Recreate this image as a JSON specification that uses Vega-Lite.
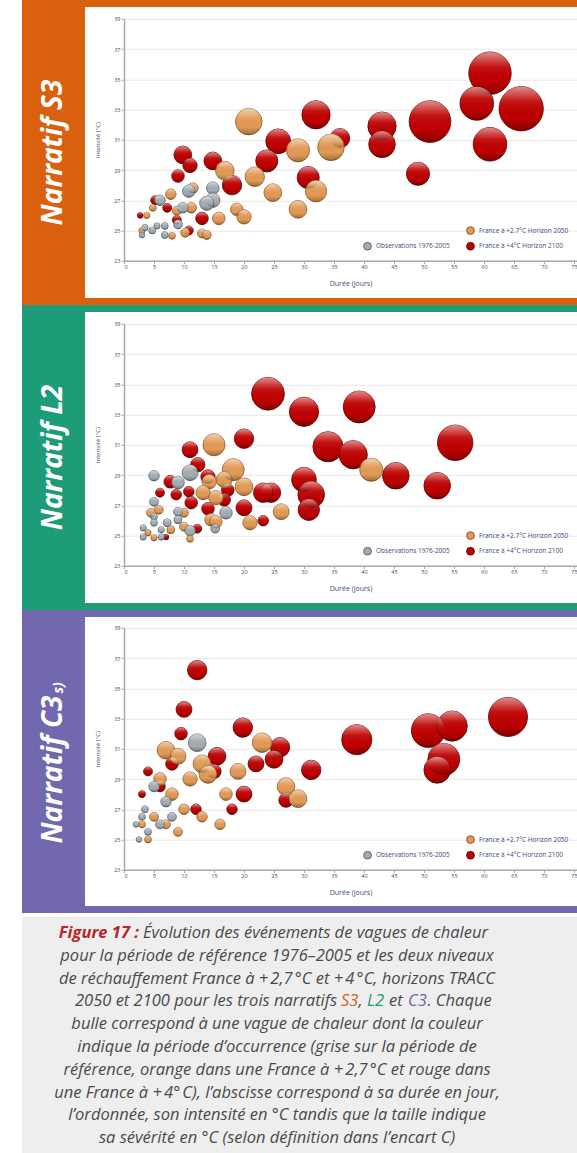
{
"$schema": "https://vega.github.io/schema/vega-lite/v6.json",
"background": "white",
"padding": {"left": 22, "top": 0, "right": 0, "bottom": 0},
"config": {
  "view": {"stroke": null},
  "font": "Open Sans",
  "axis": {"labelFont": "Open Sans", "labelFontSize": 5.5, "labelColor": "#3b4c78", "titleFont": "Open Sans", "titleFontSize": 7, "titleFontWeight": "normal", "titleColor": "#3b4c78", "domainColor": "#a9a9a9", "domainWidth": 1.5, "tickColor": "#a9a9a9", "tickSize": 3, "labelPadding": 1, "gridColor": "#e8e8e8", "gridWidth": 1.2},
  "axisX": {"grid": false, "titlePadding": 9},
  "axisY": {"grid": true, "titlePadding": 13, "titleFontSize": 6}
},
"resolve": {"scale": {"color": "independent", "stroke": "independent", "size": "independent"}},
"datasets": {
  "s3": [
    {"d":61.0,"i":35.4,"s":230,"c":"r"},{"d":58.8,"i":33.4,"s":144,"c":"r"},{"d":66.2,"i":33.05,"s":250,"c":"r"},{"d":51.0,"i":32.2,"s":221,"c":"r"},{"d":61.0,"i":30.7,"s":144,"c":"r"},{"d":43.0,"i":31.9,"s":102,"c":"r"},{"d":43.0,"i":30.7,"s":90,"c":"r"},{"d":49.0,"i":28.75,"s":68,"c":"r"},{"d":32.0,"i":32.65,"s":102,"c":"r"},{"d":36.0,"i":31.1,"s":48,"c":"r"},{"d":25.7,"i":30.9,"s":78,"c":"r"},{"d":23.8,"i":29.6,"s":62,"c":"r"},{"d":30.7,"i":28.5,"s":62,"c":"r"},{"d":9.8,"i":30.0,"s":40,"c":"r"},{"d":11.0,"i":29.3,"s":26,"c":"r"},{"d":14.8,"i":29.6,"s":40,"c":"r"},{"d":9.0,"i":28.6,"s":20,"c":"r"},{"d":18.0,"i":28.0,"s":48,"c":"r"},{"d":13.0,"i":25.8,"s":20,"c":"r"},{"d":5.2,"i":27.0,"s":10,"c":"r"},{"d":7.2,"i":26.5,"s":10,"c":"r"},{"d":2.7,"i":26.0,"s":4,"c":"r"},{"d":8.8,"i":25.7,"s":10,"c":"r"},{"d":10.8,"i":25.0,"s":10,"c":"r"},
    {"d":20.8,"i":32.2,"s":90,"c":"o"},{"d":29.0,"i":30.3,"s":68,"c":"o"},{"d":34.5,"i":30.5,"s":90,"c":"o"},{"d":21.8,"i":28.55,"s":48,"c":"o"},{"d":16.8,"i":28.95,"s":44,"c":"o"},{"d":32.0,"i":27.6,"s":58,"c":"o"},{"d":24.8,"i":27.5,"s":40,"c":"o"},{"d":29.0,"i":26.4,"s":40,"c":"o"},{"d":18.8,"i":26.4,"s":20,"c":"o"},{"d":20.0,"i":25.9,"s":26,"c":"o"},{"d":15.8,"i":25.8,"s":20,"c":"o"},{"d":11.2,"i":26.5,"s":14,"c":"o"},{"d":7.8,"i":27.4,"s":14,"c":"o"},{"d":4.8,"i":26.5,"s":6,"c":"o"},{"d":3.8,"i":26.0,"s":5,"c":"o"},{"d":10.2,"i":24.85,"s":10,"c":"o"},{"d":13.0,"i":24.8,"s":10,"c":"o"},{"d":13.8,"i":24.7,"s":10,"c":"o"},{"d":8.0,"i":24.65,"s":6,"c":"o"},{"d":3.0,"i":25.0,"s":5,"c":"o"},{"d":8.8,"i":26.3,"s":10,"c":"o"},{"d":11.5,"i":27.8,"s":14,"c":"o"},
    {"d":14.8,"i":27.8,"s":20,"c":"g"},{"d":14.8,"i":27.0,"s":26,"c":"g"},{"d":13.8,"i":26.8,"s":26,"c":"g"},{"d":10.8,"i":27.6,"s":20,"c":"g"},{"d":9.8,"i":26.5,"s":14,"c":"g"},{"d":6.0,"i":27.0,"s":14,"c":"g"},{"d":9.0,"i":25.4,"s":10,"c":"g"},{"d":4.7,"i":25.0,"s":6,"c":"g"},{"d":6.8,"i":24.7,"s":6,"c":"g"},{"d":3.5,"i":25.2,"s":5,"c":"g"},{"d":5.5,"i":25.3,"s":5,"c":"g"},{"d":6.8,"i":25.3,"s":6,"c":"g"},{"d":3.0,"i":24.7,"s":4,"c":"g"}
  ],
  "l2": [
    {"d":24.0,"i":34.37,"s":137,"c":"r"},{"d":30.0,"i":33.18,"s":109,"c":"r"},{"d":39.2,"i":33.5,"s":130,"c":"r"},{"d":34.0,"i":30.87,"s":116,"c":"r"},{"d":55.2,"i":31.13,"s":160,"c":"r"},{"d":20.0,"i":31.4,"s":48,"c":"r"},{"d":11.0,"i":30.67,"s":32,"c":"r"},{"d":38.2,"i":30.34,"s":102,"c":"r"},{"d":45.3,"i":28.95,"s":90,"c":"r"},{"d":52.2,"i":28.29,"s":90,"c":"r"},{"d":30.0,"i":28.69,"s":78,"c":"r"},{"d":31.2,"i":27.7,"s":90,"c":"r"},{"d":30.8,"i":26.7,"s":58,"c":"r"},{"d":24.5,"i":27.83,"s":48,"c":"r"},{"d":23.2,"i":27.83,"s":48,"c":"r"},{"d":23.2,"i":25.98,"s":14,"c":"r"},{"d":20.0,"i":26.83,"s":32,"c":"r"},{"d":14.0,"i":28.88,"s":26,"c":"r"},{"d":16.7,"i":27.36,"s":20,"c":"r"},{"d":17.3,"i":28.0,"s":20,"c":"r"},{"d":14.0,"i":26.77,"s":20,"c":"r"},{"d":11.2,"i":27.17,"s":20,"c":"r"},{"d":10.8,"i":27.9,"s":14,"c":"r"},{"d":12.3,"i":29.68,"s":26,"c":"r"},{"d":7.7,"i":28.55,"s":20,"c":"r"},{"d":8.7,"i":27.7,"s":14,"c":"r"},{"d":6.0,"i":27.83,"s":10,"c":"r"},{"d":12.2,"i":25.45,"s":10,"c":"r"},{"d":7.0,"i":24.9,"s":4,"c":"r"},
    {"d":15.0,"i":31.0,"s":62,"c":"o"},{"d":41.2,"i":29.35,"s":68,"c":"o"},{"d":26.2,"i":26.57,"s":32,"c":"o"},{"d":21.0,"i":25.84,"s":26,"c":"o"},{"d":20.0,"i":28.22,"s":40,"c":"o"},{"d":18.2,"i":29.35,"s":62,"c":"o"},{"d":16.7,"i":28.69,"s":32,"c":"o"},{"d":14.2,"i":28.55,"s":26,"c":"o"},{"d":13.2,"i":27.83,"s":26,"c":"o"},{"d":15.3,"i":27.5,"s":26,"c":"o"},{"d":14.5,"i":26.04,"s":20,"c":"o"},{"d":15.3,"i":25.9,"s":20,"c":"o"},{"d":5.8,"i":26.7,"s":10,"c":"o"},{"d":4.5,"i":26.5,"s":10,"c":"o"},{"d":10.0,"i":26.5,"s":10,"c":"o"},{"d":10.0,"i":25.58,"s":10,"c":"o"},{"d":11.0,"i":24.78,"s":6,"c":"o"},{"d":4.0,"i":25.18,"s":5,"c":"o"},{"d":5.0,"i":24.85,"s":5,"c":"o"},{"d":7.8,"i":25.38,"s":8,"c":"o"},
    {"d":17.0,"i":26.5,"s":20,"c":"g"},{"d":15.2,"i":25.45,"s":10,"c":"g"},{"d":11.0,"i":29.15,"s":32,"c":"g"},{"d":9.0,"i":28.5,"s":20,"c":"g"},{"d":5.0,"i":28.95,"s":14,"c":"g"},{"d":5.0,"i":27.23,"s":10,"c":"g"},{"d":5.0,"i":26.24,"s":6,"c":"g"},{"d":5.0,"i":25.84,"s":6,"c":"g"},{"d":7.2,"i":25.84,"s":8,"c":"g"},{"d":9.0,"i":26.57,"s":10,"c":"g"},{"d":9.0,"i":26.04,"s":8,"c":"g"},{"d":11.0,"i":25.31,"s":14,"c":"g"},{"d":3.2,"i":25.5,"s":5,"c":"g"},{"d":3.2,"i":24.9,"s":5,"c":"g"},{"d":6.2,"i":25.38,"s":5,"c":"g"},{"d":6.2,"i":24.9,"s":5,"c":"g"}
  ],
  "c3": [
    {"d":12.2,"i":36.2,"s":48,"c":"r"},{"d":10.0,"i":33.6,"s":32,"c":"r"},{"d":19.8,"i":32.4,"s":48,"c":"r"},{"d":26.0,"i":31.1,"s":48,"c":"r"},{"d":25.0,"i":30.3,"s":40,"c":"r"},{"d":31.2,"i":29.6,"s":48,"c":"r"},{"d":38.8,"i":31.6,"s":116,"c":"r"},{"d":50.7,"i":32.2,"s":144,"c":"r"},{"d":54.7,"i":32.5,"s":116,"c":"r"},{"d":53.3,"i":30.3,"s":130,"c":"r"},{"d":52.2,"i":29.6,"s":90,"c":"r"},{"d":64.0,"i":33.1,"s":194,"c":"r"},{"d":20.0,"i":28.0,"s":32,"c":"r"},{"d":15.5,"i":30.5,"s":40,"c":"r"},{"d":15.0,"i":29.5,"s":26,"c":"r"},{"d":9.5,"i":32.0,"s":20,"c":"r"},{"d":22.0,"i":30.0,"s":32,"c":"r"},{"d":27.0,"i":27.6,"s":26,"c":"r"},{"d":18.0,"i":27.0,"s":14,"c":"r"},{"d":8.0,"i":30.0,"s":20,"c":"r"},{"d":4.0,"i":29.5,"s":10,"c":"r"},{"d":6.0,"i":28.5,"s":14,"c":"r"},{"d":3.0,"i":28.0,"s":6,"c":"r"},{"d":12.0,"i":27.0,"s":14,"c":"r"},
    {"d":23.0,"i":31.4,"s":48,"c":"o"},{"d":27.0,"i":28.5,"s":40,"c":"o"},{"d":29.0,"i":27.7,"s":40,"c":"o"},{"d":7.0,"i":30.9,"s":40,"c":"o"},{"d":9.0,"i":30.5,"s":32,"c":"o"},{"d":13.0,"i":30.0,"s":40,"c":"o"},{"d":14.0,"i":29.3,"s":40,"c":"o"},{"d":19.0,"i":29.5,"s":32,"c":"o"},{"d":11.0,"i":29.0,"s":26,"c":"o"},{"d":17.0,"i":28.0,"s":20,"c":"o"},{"d":6.0,"i":29.0,"s":20,"c":"o"},{"d":8.0,"i":28.0,"s":20,"c":"o"},{"d":10.0,"i":27.0,"s":14,"c":"o"},{"d":13.0,"i":26.5,"s":14,"c":"o"},{"d":5.0,"i":26.5,"s":10,"c":"o"},{"d":3.0,"i":26.0,"s":6,"c":"o"},{"d":7.0,"i":26.0,"s":10,"c":"o"},{"d":4.0,"i":25.0,"s":6,"c":"o"},{"d":9.0,"i":25.5,"s":10,"c":"o"},{"d":16.0,"i":26.0,"s":14,"c":"o"},
    {"d":12.2,"i":31.4,"s":40,"c":"g"},{"d":5.0,"i":28.5,"s":14,"c":"g"},{"d":7.0,"i":27.5,"s":14,"c":"g"},{"d":3.0,"i":26.5,"s":6,"c":"g"},{"d":4.0,"i":25.5,"s":6,"c":"g"},{"d":6.0,"i":26.0,"s":10,"c":"g"},{"d":2.5,"i":25.0,"s":4,"c":"g"},{"d":8.0,"i":26.5,"s":10,"c":"g"},{"d":3.5,"i":27.0,"s":6,"c":"g"},{"d":2.0,"i":26.0,"s":4,"c":"g"}
  ],
  "cap": [
    {"l":1,"k":"f","t":"Figure 17 :"},
    {"l":1,"k":"a","t":"Évolution des événements de vagues de chaleur"},
    {"l":2,"k":"c","t":"pour la période de référence 1976–2005 et les deux niveaux"},
    {"l":3,"k":"c","t":"de réchauffement France à +\u202f2,7\u202f°C et +\u202f4\u202f°C, horizons TRACC"},
    {"l":4,"k":"b","t":"2050 et 2100 pour les trois narratifs"},
    {"l":4,"k":"s","t":"S3"},
    {"l":4,"k":"m","t":","},
    {"l":4,"k":"g","t":"L2"},
    {"l":4,"k":"e","t":"et"},
    {"l":4,"k":"p","t":"C3"},
    {"l":4,"k":"q","t":". Chaque"},
    {"l":5,"k":"c","t":"bulle correspond à une vague de chaleur dont la couleur"},
    {"l":6,"k":"c","t":"indique la période d’occurrence (grise sur la période de"},
    {"l":7,"k":"c","t":"référence, orange dans une France à +\u202f2,7\u202f°C et rouge dans"},
    {"l":8,"k":"c","t":"une France à +\u202f4°\u202fC), l’abscisse correspond à sa durée en jour,"},
    {"l":9,"k":"c","t":"l’ordonnée, son intensité en °C tandis que la taille indique"},
    {"l":10,"k":"c","t":"sa sévérité en °C (selon définition dans l’encart C)"}
  ]
},
"spacing": 4,
"vconcat": [
  {"spacing": 0, "resolve": {"scale": {"color": "independent", "stroke": "independent", "size": "independent"}}, "vconcat": [
    {"spacing": 0, "resolve": {"scale": {"color": "independent", "stroke": "independent", "size": "independent"}}, "vconcat": [
      {"width": 555, "height": 7, "view": {"fill": "#d9600f", "stroke": null}, "data": {"values": [{"t": ""}]}, "mark": {"type": "point", "opacity": 0, "size": 1}, "encoding": {}},
      {"resolve": {"scale": {"color": "independent", "stroke": "independent", "size": "independent"}}, "hconcat": [
        {"width": 63, "height": 291, "view": {"fill": "#d9600f", "stroke": null}, "data": {"values": [{"t": "Narratif S3"}]}, "mark": {"type": "text", "angle": 270, "color": "white", "font": "Open Sans", "fontSize": 28, "fontWeight": "bold", "fontStyle": "italic"}, "encoding": {"text": {"field": "t"}}},
        {"width": 453, "height": 242, "data": {"name": "s3"},
         "encoding": {
           "x": {"field": "d", "type": "quantitative", "scale": {"domain": [0, 75.5], "nice": false, "zero": false}, "axis": {"title": "Durée  (jours)", "values": [0,5,10,15,20,25,30,35,40,45,50,55,60,65,70,75]}},
           "y": {"field": "i", "type": "quantitative", "scale": {"domain": [23, 39], "nice": false, "zero": false}, "axis": {"title": "Intensité (°C)", "values": [23,25,27,29,31,33,35,37,39]}},
           "size": {"field": "s", "type": "quantitative", "scale": {"domain": [0, 250], "range": [0, 1963]}, "legend": null},
           "order": {"field": "c", "sort": "descending"}
         },
         "layer": [
           {"mark": {"type": "circle", "opacity": 1, "strokeWidth": 0.8},
            "encoding": {
              "color": {"field": "c", "type": "nominal", "scale": {"domain": ["z","g","o","r"], "range": ["rgba(0,0,0,0)","#a3acb2","#e29a56","#bf0000"]}, "legend": {"title": null, "orient": "bottom-right", "columns": 2, "offset": 8, "symbolType": "circle", "symbolSize": 60, "symbolStrokeWidth": 1, "labelFontSize": 6.5, "labelColor": "#3b4c78", "labelFont": "Open Sans", "rowPadding": 3, "columnPadding": 14, "labelExpr": "datum.value=='o'?'France à +2.7°C Horizon 2050':datum.value=='g'?'Observations 1976-2005':datum.value=='r'?'France à +4°C Horizon 2100':''"}},
              "stroke": {"field": "c", "type": "nominal", "scale": {"domain": ["z","g","o","r"], "range": ["rgba(0,0,0,0)","#5e666c","#8d5a2b","#5e0000"]}, "legend": {"title": null, "orient": "bottom-right", "columns": 2, "offset": 8, "symbolType": "circle", "symbolSize": 60, "symbolStrokeWidth": 1, "labelFontSize": 6.5, "labelColor": "#3b4c78", "labelFont": "Open Sans", "rowPadding": 3, "columnPadding": 14, "labelExpr": "datum.value=='o'?'France à +2.7°C Horizon 2050':datum.value=='g'?'Observations 1976-2005':datum.value=='r'?'France à +4°C Horizon 2100':''"}}
            }},
           {"mark": {"type": "circle", "opacity": 1, "strokeWidth": 0, "fill": {"gradient": "linear", "x1": 0, "y1": 0, "x2": 0, "y2": 1, "stops": [{"offset": 0, "color": "rgba(255,255,255,0.55)"}, {"offset": 0.35, "color": "rgba(255,255,255,0.08)"}, {"offset": 0.7, "color": "rgba(0,0,0,0)"}, {"offset": 1, "color": "rgba(0,0,0,0.3)"}]}}}
         ]}
      ], "spacing": 9, "center": true},
      {"width": 555, "height": 7, "view": {"fill": "#d9600f", "stroke": null}, "data": {"values": [{"t": ""}]}, "mark": {"type": "point", "opacity": 0, "size": 1}, "encoding": {}}
    ]},
    {"spacing": 0, "resolve": {"scale": {"color": "independent", "stroke": "independent", "size": "independent"}}, "vconcat": [
      {"width": 555, "height": 7, "view": {"fill": "#1e9b77", "stroke": null}, "data": {"values": [{"t": ""}]}, "mark": {"type": "point", "opacity": 0, "size": 1}, "encoding": {}},
      {"resolve": {"scale": {"color": "independent", "stroke": "independent", "size": "independent"}}, "hconcat": [
        {"width": 63, "height": 291, "view": {"fill": "#1e9b77", "stroke": null}, "data": {"values": [{"t": "Narratif L2"}]}, "mark": {"type": "text", "angle": 270, "color": "white", "font": "Open Sans", "fontSize": 28, "fontWeight": "bold", "fontStyle": "italic"}, "encoding": {"text": {"field": "t"}}},
        {"width": 453, "height": 242, "data": {"name": "l2"},
         "encoding": {
           "x": {"field": "d", "type": "quantitative", "scale": {"domain": [0, 75.5], "nice": false, "zero": false}, "axis": {"title": "Durée  (jours)", "values": [0,5,10,15,20,25,30,35,40,45,50,55,60,65,70,75]}},
           "y": {"field": "i", "type": "quantitative", "scale": {"domain": [23, 39], "nice": false, "zero": false}, "axis": {"title": "Intensité (°C)", "values": [23,25,27,29,31,33,35,37,39]}},
           "size": {"field": "s", "type": "quantitative", "scale": {"domain": [0, 250], "range": [0, 1963]}, "legend": null},
           "order": {"field": "c", "sort": "descending"}
         },
         "layer": [
           {"mark": {"type": "circle", "opacity": 1, "strokeWidth": 0.8},
            "encoding": {
              "color": {"field": "c", "type": "nominal", "scale": {"domain": ["z","g","o","r"], "range": ["rgba(0,0,0,0)","#a3acb2","#e29a56","#bf0000"]}, "legend": {"title": null, "orient": "bottom-right", "columns": 2, "offset": 8, "symbolType": "circle", "symbolSize": 60, "symbolStrokeWidth": 1, "labelFontSize": 6.5, "labelColor": "#3b4c78", "labelFont": "Open Sans", "rowPadding": 3, "columnPadding": 14, "labelExpr": "datum.value=='o'?'France à +2.7°C Horizon 2050':datum.value=='g'?'Observations 1976-2005':datum.value=='r'?'France à +4°C Horizon 2100':''"}},
              "stroke": {"field": "c", "type": "nominal", "scale": {"domain": ["z","g","o","r"], "range": ["rgba(0,0,0,0)","#5e666c","#8d5a2b","#5e0000"]}, "legend": {"title": null, "orient": "bottom-right", "columns": 2, "offset": 8, "symbolType": "circle", "symbolSize": 60, "symbolStrokeWidth": 1, "labelFontSize": 6.5, "labelColor": "#3b4c78", "labelFont": "Open Sans", "rowPadding": 3, "columnPadding": 14, "labelExpr": "datum.value=='o'?'France à +2.7°C Horizon 2050':datum.value=='g'?'Observations 1976-2005':datum.value=='r'?'France à +4°C Horizon 2100':''"}}
            }},
           {"mark": {"type": "circle", "opacity": 1, "strokeWidth": 0, "fill": {"gradient": "linear", "x1": 0, "y1": 0, "x2": 0, "y2": 1, "stops": [{"offset": 0, "color": "rgba(255,255,255,0.55)"}, {"offset": 0.35, "color": "rgba(255,255,255,0.08)"}, {"offset": 0.7, "color": "rgba(0,0,0,0)"}, {"offset": 1, "color": "rgba(0,0,0,0.3)"}]}}}
         ]}
      ], "spacing": 9, "center": true},
      {"width": 555, "height": 7, "view": {"fill": "#1e9b77", "stroke": null}, "data": {"values": [{"t": ""}]}, "mark": {"type": "point", "opacity": 0, "size": 1}, "encoding": {}}
    ]},
    {"spacing": 0, "resolve": {"scale": {"color": "independent", "stroke": "independent", "size": "independent"}}, "vconcat": [
      {"width": 555, "height": 7, "view": {"fill": "#7268b0", "stroke": null}, "data": {"values": [{"t": ""}]}, "mark": {"type": "point", "opacity": 0, "size": 1}, "encoding": {}},
      {"resolve": {"scale": {"color": "independent", "stroke": "independent", "size": "independent"}}, "hconcat": [
        {"width": 63, "height": 289, "view": {"fill": "#7268b0", "stroke": null}, "data": {"values": [{"t": "Narratif C3", "u": "s)"}]},
         "layer": [
           {"mark": {"type": "text", "angle": 270, "color": "white", "font": "Open Sans", "fontSize": 28, "fontWeight": "bold", "fontStyle": "italic", "dx": -8}, "encoding": {"text": {"field": "t"}}},
           {"mark": {"type": "text", "angle": 270, "color": "white", "font": "Open Sans", "fontSize": 14, "fontWeight": "bold", "fontStyle": "italic", "align": "left", "dx": 68, "dy": 5}, "encoding": {"text": {"field": "u"}}}
         ]},
        {"width": 453, "height": 242, "data": {"name": "c3"},
         "encoding": {
           "x": {"field": "d", "type": "quantitative", "scale": {"domain": [0, 75.5], "nice": false, "zero": false}, "axis": {"title": "Durée  (jours)", "values": [0,5,10,15,20,25,30,35,40,45,50,55,60,65,70,75]}},
           "y": {"field": "i", "type": "quantitative", "scale": {"domain": [23, 39], "nice": false, "zero": false}, "axis": {"title": "Intensité (°C)", "values": [23,25,27,29,31,33,35,37,39]}},
           "size": {"field": "s", "type": "quantitative", "scale": {"domain": [0, 250], "range": [0, 1963]}, "legend": null},
           "order": {"field": "c", "sort": "descending"}
         },
         "layer": [
           {"mark": {"type": "circle", "opacity": 1, "strokeWidth": 0.8},
            "encoding": {
              "color": {"field": "c", "type": "nominal", "scale": {"domain": ["z","g","o","r"], "range": ["rgba(0,0,0,0)","#a3acb2","#e29a56","#bf0000"]}, "legend": {"title": null, "orient": "bottom-right", "columns": 2, "offset": 8, "symbolType": "circle", "symbolSize": 60, "symbolStrokeWidth": 1, "labelFontSize": 6.5, "labelColor": "#3b4c78", "labelFont": "Open Sans", "rowPadding": 3, "columnPadding": 14, "labelExpr": "datum.value=='o'?'France à +2.7°C Horizon 2050':datum.value=='g'?'Observations 1976-2005':datum.value=='r'?'France à +4°C Horizon 2100':''"}},
              "stroke": {"field": "c", "type": "nominal", "scale": {"domain": ["z","g","o","r"], "range": ["rgba(0,0,0,0)","#5e666c","#8d5a2b","#5e0000"]}, "legend": {"title": null, "orient": "bottom-right", "columns": 2, "offset": 8, "symbolType": "circle", "symbolSize": 60, "symbolStrokeWidth": 1, "labelFontSize": 6.5, "labelColor": "#3b4c78", "labelFont": "Open Sans", "rowPadding": 3, "columnPadding": 14, "labelExpr": "datum.value=='o'?'France à +2.7°C Horizon 2050':datum.value=='g'?'Observations 1976-2005':datum.value=='r'?'France à +4°C Horizon 2100':''"}}
            }},
           {"mark": {"type": "circle", "opacity": 1, "strokeWidth": 0, "fill": {"gradient": "linear", "x1": 0, "y1": 0, "x2": 0, "y2": 1, "stops": [{"offset": 0, "color": "rgba(255,255,255,0.55)"}, {"offset": 0.35, "color": "rgba(255,255,255,0.08)"}, {"offset": 0.7, "color": "rgba(0,0,0,0)"}, {"offset": 1, "color": "rgba(0,0,0,0.3)"}]}}}
         ]}
      ], "spacing": 9, "center": true},
      {"width": 555, "height": 7, "view": {"fill": "#7268b0", "stroke": null}, "data": {"values": [{"t": ""}]}, "mark": {"type": "point", "opacity": 0, "size": 1}, "encoding": {}}
    ]}
  ]},
  {"width": 555, "height": 236, "view": {"fill": "#eeeeee", "stroke": null}, "data": {"name": "cap"},
   "encoding": {"y": {"field": "l", "type": "quantitative", "scale": {"domain": [0.298, 10.649], "reverse": true, "nice": false, "zero": false}, "axis": null}},
   "layer": [
     {"transform": [{"filter": "datum.k == 'c'"}], "mark": {"type": "text", "font": "Open Sans", "fontStyle": "italic", "fontSize": 16.5, "color": "#4a4a4a", "baseline": "middle", "align": "center"}, "encoding": {"x": {"datum": 0.4595, "type": "quantitative", "scale": {"domain": [0, 1], "nice": false, "zero": false}, "axis": null}, "text": {"field": "t"}}},
     {"transform": [{"filter": "datum.k == 'f'"}], "mark": {"type": "text", "font": "Open Sans", "fontStyle": "italic", "fontWeight": "bold", "fontSize": 16.5, "color": "#b8262c", "baseline": "middle", "align": "right"}, "encoding": {"x": {"datum": 0.2108, "type": "quantitative"}, "text": {"field": "t"}}},
     {"transform": [{"filter": "datum.k == 'a'"}], "mark": {"type": "text", "font": "Open Sans", "fontStyle": "italic", "fontSize": 16.5, "color": "#4a4a4a", "baseline": "middle", "align": "left"}, "encoding": {"x": {"datum": 0.218, "type": "quantitative"}, "text": {"field": "t"}}},
     {"transform": [{"filter": "datum.k == 'b'"}], "mark": {"type": "text", "font": "Open Sans", "fontStyle": "italic", "fontSize": 16.5, "color": "#4a4a4a", "baseline": "middle", "align": "right"}, "encoding": {"x": {"datum": 0.5676, "type": "quantitative"}, "text": {"field": "t"}}},
     {"transform": [{"filter": "datum.k == 's'"}], "mark": {"type": "text", "font": "Open Sans", "fontStyle": "italic", "fontSize": 16.5, "color": "#d4601a", "baseline": "middle", "align": "left"}, "encoding": {"x": {"datum": 0.5748, "type": "quantitative"}, "text": {"field": "t"}}},
     {"transform": [{"filter": "datum.k == 'm'"}], "mark": {"type": "text", "font": "Open Sans", "fontStyle": "italic", "fontSize": 16.5, "color": "#4a4a4a", "baseline": "middle", "align": "left"}, "encoding": {"x": {"datum": 0.6063, "type": "quantitative"}, "text": {"field": "t"}}},
     {"transform": [{"filter": "datum.k == 'g'"}], "mark": {"type": "text", "font": "Open Sans", "fontStyle": "italic", "fontSize": 16.5, "color": "#1e9b77", "baseline": "middle", "align": "left"}, "encoding": {"x": {"datum": 0.6216, "type": "quantitative"}, "text": {"field": "t"}}},
     {"transform": [{"filter": "datum.k == 'e'"}], "mark": {"type": "text", "font": "Open Sans", "fontStyle": "italic", "fontSize": 16.5, "color": "#4a4a4a", "baseline": "middle", "align": "left"}, "encoding": {"x": {"datum": 0.6613, "type": "quantitative"}, "text": {"field": "t"}}},
     {"transform": [{"filter": "datum.k == 'p'"}], "mark": {"type": "text", "font": "Open Sans", "fontStyle": "italic", "fontSize": 16.5, "color": "#6f66ad", "baseline": "middle", "align": "left"}, "encoding": {"x": {"datum": 0.6955, "type": "quantitative"}, "text": {"field": "t"}}},
     {"transform": [{"filter": "datum.k == 'q'"}], "mark": {"type": "text", "font": "Open Sans", "fontStyle": "italic", "fontSize": 16.5, "color": "#4a4a4a", "baseline": "middle", "align": "left"}, "encoding": {"x": {"datum": 0.7305, "type": "quantitative"}, "text": {"field": "t"}}}
   ]}
]
}
